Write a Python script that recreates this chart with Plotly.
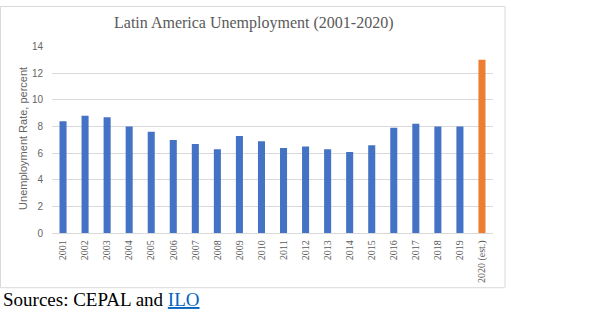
import plotly.graph_objects as go

# Unemployment rate in Latin America, percent
years = ["2001", "2002", "2003", "2004", "2005", "2006", "2007", "2008", "2009", "2010",
         "2011", "2012", "2013", "2014", "2015", "2016", "2017", "2018", "2019", "2020 (est.)"]
rates = [8.4, 8.8, 8.7, 8.0, 7.6, 7.0, 6.7, 6.3, 7.3, 6.9,
         6.4, 6.5, 6.3, 6.1, 6.6, 7.9, 8.2, 8.0, 8.0, 13.0]
y_ticks = [0, 2, 4, 6, 8, 10, 12, 14]

BLUE = "#4472C4"
ORANGE = "#ED7D31"
colors = [ORANGE if y.endswith("(est.)") else BLUE for y in years]

W, H = 600, 326


def px_x(x):
    return x / W


def px_y(y):
    return 1 - y / H


fig = go.Figure(
    go.Bar(
        x=years,
        y=rates,
        marker=dict(color=colors, line=dict(width=0)),
        hoverinfo="x+y",
    )
)

fig.update_layout(
    width=W,
    height=H,
    margin=dict(l=0, r=0, t=0, b=0),
    paper_bgcolor="white",
    plot_bgcolor="white",
    showlegend=False,
    bargap=0.68,
    xaxis=dict(
        type="category",
        domain=[px_x(52), px_x(493)],
        anchor="y",
        tickangle=-90,
        tickfont=dict(family="Liberation Serif, Times New Roman, serif", size=10, color="#595959"),
        showline=True,
        linecolor="#D9D9D9",
        linewidth=1,
        showgrid=False,
        ticks="",
        ticklabelstandoff=2,
    ),
    yaxis=dict(
        domain=[px_y(236), px_y(42)],
        range=[0, 14],
        tickvals=y_ticks,
        tickfont=dict(family="Liberation Sans, Arial, sans-serif", size=10, color="#666666"),
        showgrid=True,
        gridcolor="#D9D9D9",
        gridwidth=1,
        zeroline=False,
        showline=False,
        ticks="",
        ticklabelstandoff=8,
    ),
)

# Outer chart frame
fig.add_shape(
    type="rect", xref="paper", yref="paper",
    x0=px_x(0.5), x1=px_x(505), y0=px_y(292.5), y1=px_y(0.5),
    line=dict(color="#D9D9D9", width=1), fillcolor="rgba(0,0,0,0)", layer="below",
)

# Title
fig.add_annotation(
    text="Latin America Unemployment (2001-2020)",
    xref="paper", yref="paper", x=px_x(253), y=px_y(18),
    xanchor="center", yanchor="middle", showarrow=False,
    font=dict(family="Liberation Serif, Times New Roman, serif", size=16, color="#595959"),
)

# Y axis title
fig.add_annotation(
    text="Unemployment Rate, percent",
    xref="paper", yref="paper", x=px_x(23), y=px_y(138),
    xanchor="center", yanchor="middle", showarrow=False, textangle=-90,
    font=dict(family="Liberation Sans, Arial, sans-serif", size=11, color="#666666"),
)

# Sources line
fig.add_annotation(
    text="Sources: CEPAL and <span style='color:#0563C1'><u>ILO</u></span>",
    xref="paper", yref="paper", x=px_x(1), y=px_y(305),
    xanchor="left", yanchor="middle", showarrow=False,
    font=dict(family="Liberation Serif, Times New Roman, serif", size=19, color="#000000"),
)

fig.write_html("out.html")
